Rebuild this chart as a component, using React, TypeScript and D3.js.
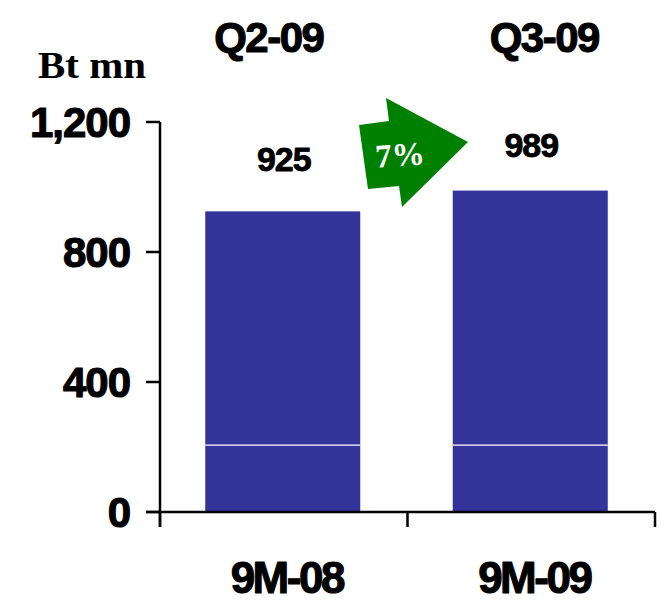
import React from "react";
import * as d3 from "d3";

// Reporting periods along the category axis
const categories = ["9M-08", "9M-09"];
// Quarter headings shown above each bar
const quarterLabels = ["Q2-09", "Q3-09"];
// Bar totals, Bt mn
const totals = [925, 989];
// Lower stacked segment of each bar, Bt mn
const baseSegment = [206, 206];
// Y-axis ticks
const yTicks = [0, 400, 800, 1200];
// Growth between the two quarters
const growthLabel = "7%";
const unitLabel = "Bt mn";

const W = 664;
const H = 605;
const BAR_COLOR = "#333399";
const ARROW_COLOR = "#008000";
const SANS = "'Liberation Sans', Arial, sans-serif";
const SERIF = "'Liberation Serif', 'Times New Roman', serif";

// heavy sans text: bold glyphs thickened with a thin outline
const heavy = {
  fontFamily: SANS,
  fontWeight: "bold" as const,
  stroke: "#000",
  strokeWidth: 1.1,
  strokeLinejoin: "round" as const,
};

export default function App() {
  const y = d3.scaleLinear().domain([0, 1200]).range([512, 122]);
  const x = d3.scaleBand<string>().domain(categories).range([160, 655]).padding(0);
  const barW = 155;
  const center = (c: string) => (x(c) ?? 0) + x.bandwidth() / 2;

  // stacked segments: [start, end]
  const stacks = categories.map((c, i) => ({
    c,
    segs: [
      [0, baseSegment[i]],
      [baseSegment[i], totals[i]],
    ],
  }));

  const valueLift = [40, 34];
  const headingShift = [-15, 13];

  // growth arrow outline
  const arrowPts: [number, number][] = [
    [359, 125],
    [389, 121],
    [386, 98],
    [468, 142],
    [402, 207],
    [399, 186],
    [368, 189],
  ];
  const arrowPath = d3.line()(arrowPts) + "Z";

  const axisBounds = [...categories.map((c) => x(c) ?? 0), 655];

  return (
    <svg
      width={W}
      height={H}
      style={{ position: "absolute", left: 0, top: 0, background: "#fff" }}
    >
      {/* bars */}
      {stacks.map((s) =>
        s.segs.map(([a, b], j) => (
          <rect
            key={s.c + j}
            x={center(s.c) - barW / 2 - 1}
            y={y(b)}
            width={barW}
            height={y(a) - y(b)}
            fill={BAR_COLOR}
          />
        ))
      )}
      {/* segment dividers */}
      {stacks.map((s, i) => (
        <line
          key={"div" + s.c}
          x1={center(s.c) - barW / 2 - 1}
          x2={center(s.c) + barW / 2 - 1}
          y1={y(baseSegment[i])}
          y2={y(baseSegment[i])}
          stroke="#fff"
          strokeWidth={1.2}
        />
      ))}

      {/* y axis */}
      <line x1={160} x2={160} y1={y(1200)} y2={527} stroke="#000" strokeWidth={2.5} />
      {yTicks.map((t) => (
        <g key={t}>
          <line x1={146} x2={160} y1={y(t)} y2={y(t)} stroke="#000" strokeWidth={2.5} />
          <text x={130} y={y(t) + 15} textAnchor="end" fontSize={42} letterSpacing={-1} {...heavy}>
            {d3.format(",")(t)}
          </text>
        </g>
      ))}

      {/* x axis */}
      <line x1={146} x2={655} y1={y(0)} y2={y(0)} stroke="#000" strokeWidth={2.5} />
      {axisBounds.map((b, i) => (
        <line key={i} x1={b} x2={b} y1={y(0)} y2={527} stroke="#000" strokeWidth={2.5} />
      ))}
      {categories.map((c) => (
        <text
          key={c}
          x={center(c) + 3}
          y={593}
          textAnchor="middle"
          fontSize={44}
          letterSpacing={-2.5}
          {...heavy}
        >
          {c}
        </text>
      ))}

      {/* quarter headings */}
      {quarterLabels.map((q, i) => (
        <text
          key={q}
          x={center(categories[i]) + headingShift[i]}
          y={52}
          textAnchor="middle"
          fontSize={42}
          letterSpacing={-1.5}
          {...heavy}
        >
          {q}
        </text>
      ))}

      {/* unit */}
      <text
        x={38}
        y={78}
        fontFamily={SERIF}
        fontWeight="bold"
        fontSize={37}
        textLength={108}
        lengthAdjust="spacingAndGlyphs"
      >
        {unitLabel}
      </text>

      {/* value labels */}
      {categories.map((c, i) => (
        <text
          key={"v" + c}
          x={center(c)}
          y={y(totals[i]) - valueLift[i]}
          textAnchor="middle"
          fontSize={34}
          letterSpacing={-1}
          {...heavy}
          strokeWidth={0.8}
        >
          {totals[i]}
        </text>
      ))}

      {/* growth arrow */}
      <path d={arrowPath} fill={ARROW_COLOR} />
      <text
        x={400}
        y={166}
        textAnchor="middle"
        fontFamily={SERIF}
        fontWeight="bold"
        fontSize={33}
        fill="#fff"
        transform="rotate(-4 400 155)"
      >
        {growthLabel}
      </text>
    </svg>
  );
}
